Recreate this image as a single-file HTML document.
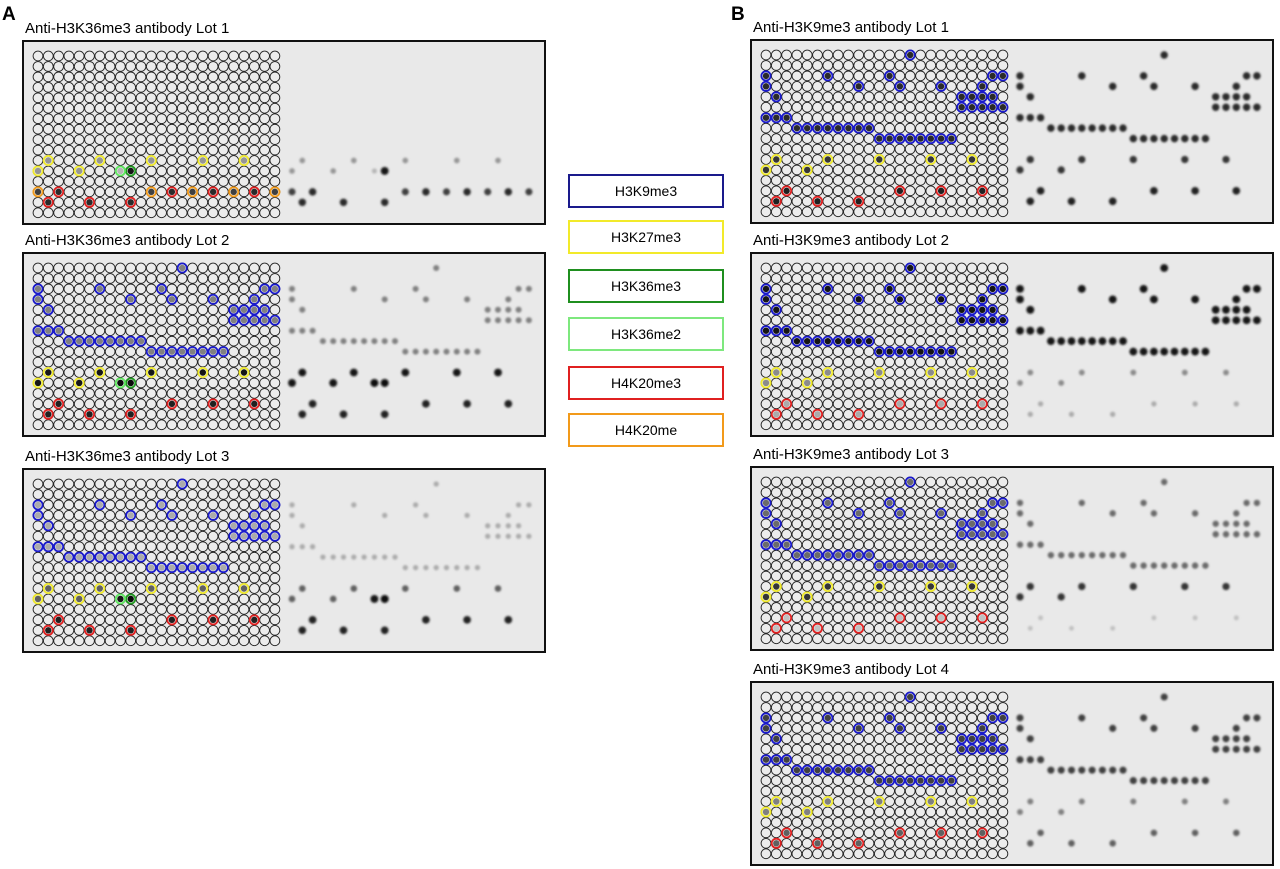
<!DOCTYPE html>
<html><head><meta charset="utf-8"><style>
body{margin:0;background:#fff;width:1280px;height:869px;overflow:hidden;font-family:"Liberation Sans",sans-serif}
svg{display:block}
</style></head><body>
<svg id="fig" width="1280" height="869" xmlns="http://www.w3.org/2000/svg">
<defs><filter id="blur" x="-50%" y="-50%" width="200%" height="200%"><feGaussianBlur stdDeviation="1.1"/></filter></defs>
<text x="2" y="20" font-size="19" font-weight="bold">A</text>
<text x="731" y="20" font-size="19" font-weight="bold">B</text>
<g font-size="14" text-anchor="middle">
<rect x="569" y="175" width="154" height="32" fill="#fff" stroke="#1a1a8c" stroke-width="2"/><text x="646" y="196">H3K9me3</text>
<rect x="569" y="221" width="154" height="32" fill="#fff" stroke="#f2ea2a" stroke-width="2"/><text x="646" y="242">H3K27me3</text>
<rect x="569" y="270" width="154" height="32" fill="#fff" stroke="#1f8f1f" stroke-width="2"/><text x="646" y="291">H3K36me3</text>
<rect x="569" y="318" width="154" height="32" fill="#fff" stroke="#7ee87e" stroke-width="2"/><text x="646" y="339">H3K36me2</text>
<rect x="569" y="367" width="154" height="32" fill="#fff" stroke="#e02020" stroke-width="2"/><text x="646" y="388">H4K20me3</text>
<rect x="569" y="414" width="154" height="32" fill="#fff" stroke="#f29a1a" stroke-width="2"/><text x="646" y="435">H4K20me</text>
</g>
</svg>
<script>
// cell groups [row, col]
const blueCells=[[0,14],[2,0],[2,6],[2,12],[2,22],[2,23],[3,0],[3,9],[3,13],[3,17],[3,21],[4,1],[4,19],[4,20],[4,21],[4,22],[5,19],[5,20],[5,21],[5,22],[5,23],[6,0],[6,1],[6,2],[7,3],[7,4],[7,5],[7,6],[7,7],[7,8],[7,9],[7,10],[8,11],[8,12],[8,13],[8,14],[8,15],[8,16],[8,17],[8,18]];
const yellowCells=[[10,1],[10,6],[10,11],[10,16],[10,20],[11,0],[11,4]];
const redCells=[[13,2],[13,13],[13,17],[13,21],[14,1],[14,5],[14,9]];
const orangeCells=[[13,0],[13,11],[13,15],[13,19],[13,23]];
const greenCells=[[11,9]];
const lightGreenCells=[[11,8]];
// panels: title, box x, box y, group intensities (0..1) [blue, yellow, red, green, lightgreen, orange]
const panelTitles=["Anti-H3K36me3 antibody Lot 1","Anti-H3K36me3 antibody Lot 2","Anti-H3K36me3 antibody Lot 3","Anti-H3K9me3 antibody Lot 1","Anti-H3K9me3 antibody Lot 2","Anti-H3K9me3 antibody Lot 3","Anti-H3K9me3 antibody Lot 4"];
const panelX=[23,23,23,751,751,751,751];
const panelY=[41,253,469,40,253,467,682];
const blueLevel=[0.1,0.45,0.25,0.85,0.95,0.55,0.75];
const yellowLevel=[0.35,0.95,0.6,0.8,0.4,0.8,0.45];
const redLevel=[0.85,0.9,0.9,0.9,0.25,0.15,0.6];
const greenLevel=[0.95,1,1,0,0,0,0];
const lgreenLevel=[0.2,1,0.95,0,0,0,0];
const orangeLevel=[0.75,0,0,0,0,0,0];
const showBlue=[false,true,true,true,true,true,true];
const showOrange=[true,false,false,false,false,false,false];

const NS="http://www.w3.org/2000/svg";
const svg=document.getElementById('fig');
function mk(t,a,p){const e=document.createElementNS(NS,t);for(const k in a)e.setAttribute(k,a[k]);p.appendChild(e);return e;}
const PX=10.3, PY=10.45;
function cx(bx,c){return bx+15+c*PX;}
function cy(by,r){return by+15+r*PY;}
function grey(v){const g=Math.round(225-215*v);return `rgb(${g},${g},${g})`;}

for(let p=0;p<panelTitles.length;p++){
  const bx=panelX[p], by=panelY[p];
  const g=mk('g',{},svg);
  
  
  const t=mk('text',{x:bx+2,y:by-8,'font-size':'15'},g);
  
  
  t.textContent=panelTitles[p];
  const r=mk('rect',{x:bx,y:by,width:522,height:183,fill:'#e9e9e9',stroke:'#111','stroke-width':2},g);
  
  
  // base grid
  const grid=mk('g',{fill:'#ececec',stroke:'#222','stroke-width':0.9},g);
  
  
  for(let i=0;i<16;i++)for(let j=0;j<24;j++){
    mk('circle',{cx:cx(bx,j),cy:cy(by,i),r:4.9},grid);
  }
  const groups=[];
  if(showBlue[p])groups.push([blueCells,'#1a1acc',blueLevel[p]]);
  groups.push([yellowCells,'#f0ea2a',yellowLevel[p]]);
  groups.push([redCells,'#e02020',redLevel[p]]);
  if(greenLevel[p]>0)groups.push([greenCells,'#1f9a1f',greenLevel[p]]);
  if(lgreenLevel[p]>0)groups.push([lightGreenCells,'#5ee85e',lgreenLevel[p]]);
  if(showOrange[p])groups.push([orangeCells,'#f29a1a',orangeLevel[p]]);
  for(const [cells,col,lv] of groups){
    for(const [rr,cc] of cells){
      const c=mk('circle',{cx:cx(bx,cc),cy:cy(by,rr),r:4.6,fill:'#ececec',stroke:col,'stroke-width':1.8},g);
      
      
      if(lv>0.05){
        const d=mk('circle',{cx:cx(bx,cc),cy:cy(by,rr),r:3.2,fill:grey(lv)},g);
        
        
      }
      // right-side film dot
      if(lv>0.05){
        const f=mk('circle',{cx:cx(bx,cc)+254,cy:cy(by,rr),r:2.2+1.8*lv,fill:grey(lv),filter:'url(#blur)'},g);
        
        
      }
    }
  }
}
</script>
</body></html>
